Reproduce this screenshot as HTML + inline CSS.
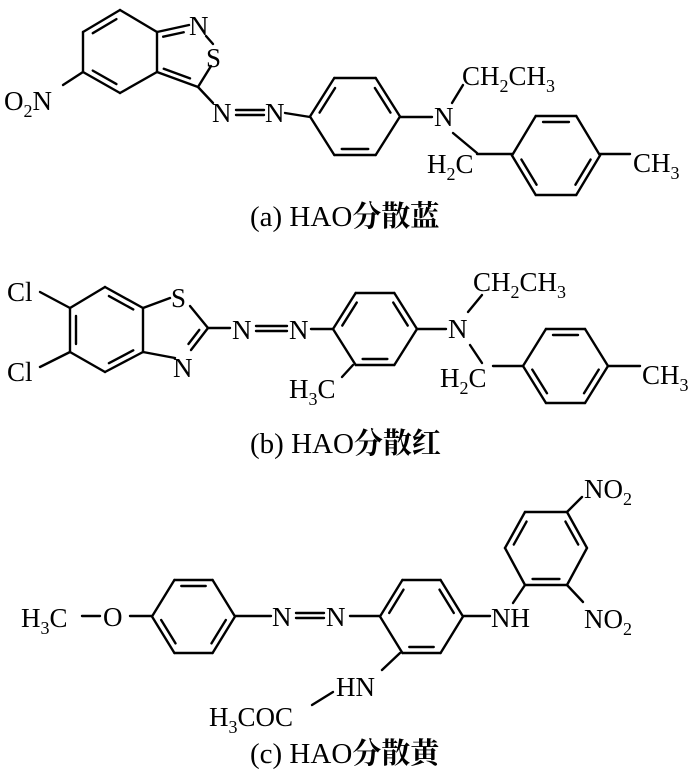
<!DOCTYPE html>
<html><head><meta charset="utf-8"><style>
html,body{margin:0;padding:0;background:#fff;}
svg{display:block;}
text{font-family:"Liberation Serif","Noto Serif CJK SC",serif;fill:#000;}
.a{font-size:27px;}
.c{font-size:29px;}
.s{font-size:18px;}
</style></head><body>
<svg id="g" width="700" height="779" viewBox="0 0 700 779" xmlns="http://www.w3.org/2000/svg">
<g id="L" stroke="#000" stroke-width="2.4" fill="none" stroke-linecap="round"></g>
<text class="a" x="4" y="110">O<tspan class="s" dy="7">2</tspan><tspan dy="-7">N</tspan></text>
<text class="a" x="189" y="35">N</text>
<text class="a" x="206" y="67">S</text>
<text class="a" x="212" y="122">N</text>
<text class="a" x="265" y="122">N</text>
<text class="a" x="434" y="126">N</text>
<text class="a" x="462" y="85">CH<tspan class="s" dy="7">2</tspan><tspan dy="-7">CH</tspan><tspan class="s" dy="7">3</tspan></text>
<text class="a" x="427" y="173">H<tspan class="s" dy="7">2</tspan><tspan dy="-7">C</tspan></text>
<text class="a" x="633" y="172">CH<tspan class="s" dy="7">3</tspan></text>
<text class="c" x="250" y="226">(a) HAO<tspan font-family="Noto Serif CJK SC,serif" font-weight="bold">分散蓝</tspan></text>
<text class="a" x="7" y="301">Cl</text>
<text class="a" x="7" y="381">Cl</text>
<text class="a" x="171" y="307">S</text>
<text class="a" x="173" y="377">N</text>
<text class="a" x="232" y="339">N</text>
<text class="a" x="289" y="339">N</text>
<text class="a" x="289" y="398">H<tspan class="s" dy="7">3</tspan><tspan dy="-7">C</tspan></text>
<text class="a" x="448" y="338">N</text>
<text class="a" x="473" y="291">CH<tspan class="s" dy="7">2</tspan><tspan dy="-7">CH</tspan><tspan class="s" dy="7">3</tspan></text>
<text class="a" x="440" y="387">H<tspan class="s" dy="7">2</tspan><tspan dy="-7">C</tspan></text>
<text class="a" x="642" y="384">CH<tspan class="s" dy="7">3</tspan></text>
<text class="c" x="250" y="453">(b) HAO<tspan font-family="Noto Serif CJK SC,serif" font-weight="bold">分散红</tspan></text>
<text class="a" x="21" y="627">H<tspan class="s" dy="7">3</tspan><tspan dy="-7">C</tspan></text>
<text class="a" x="103" y="626">O</text>
<text class="a" x="272" y="626">N</text>
<text class="a" x="326" y="626">N</text>
<text class="a" x="491" y="627">NH</text>
<text class="a" x="584" y="498">NO<tspan class="s" dy="7">2</tspan></text>
<text class="a" x="584" y="628">NO<tspan class="s" dy="7">2</tspan></text>
<text class="a" x="336" y="696">HN</text>
<text class="a" x="209" y="726">H<tspan class="s" dy="7">3</tspan><tspan dy="-7">COC</tspan></text>
<text class="c" x="250" y="763">(c) HAO<tspan font-family="Noto Serif CJK SC,serif" font-weight="bold">分散黄</tspan></text>
</svg>
<script>
var G=document.getElementById('L');
function ln(a,b,c,d){var l=document.createElementNS('http://www.w3.org/2000/svg','line');l.setAttribute('x1',a);l.setAttribute('y1',b);l.setAttribute('x2',c);l.setAttribute('y2',d);G.appendChild(l);}
function inner(p,q,cx,cy){var mx=(p[0]+q[0])/2,my=(p[1]+q[1])/2;var dx=cx-mx,dy=cy-my,d=Math.hypot(dx,dy);var o=6;var ox=dx/d*o,oy=dy/d*o;var s=0.18;
var a=[p[0]+(q[0]-p[0])*s+ox,p[1]+(q[1]-p[1])*s+oy],b=[q[0]+(p[0]-q[0])*s+ox,q[1]+(p[1]-q[1])*s+oy];ln(a[0],a[1],b[0],b[1]);}
function ring(P,dbl){var cx=0,cy=0;P.forEach(function(p){cx+=p[0];cy+=p[1];});cx/=P.length;cy/=P.length;
for(var i=0;i<P.length;i++){var q=P[(i+1)%P.length];ln(P[i][0],P[i][1],q[0],q[1]);}
dbl.forEach(function(i){inner(P[i],P[(i+1)%P.length],cx,cy);});}
function hex(l,r,t,b){var w=r-l,q=w*0.27;return [[l,(t+b)/2],[l+q,t],[r-q,t],[r,(t+b)/2],[r-q,b],[l+q,b]];}
var B=[[120,10],[83,32],[83,72],[120,93],[157,72],[157,32]];
ring(B,[0,2]);
ln(157,32,189,25); inner([157,32],[189,25],175,55);
ln(206,36,213,44); ln(211,66,198,87); ln(198,87,157,72); inner([198,87],[157,72],175,55);
ln(63,85,83,72); ln(198,87,213,103);
ln(236,110,264,110); ln(236,115,264,115);
ln(285,113,310,117);
ring(hex(310,400,78,155),[0,2,4]);
ln(400,117,432,117); ln(452,103,463,85); ln(453,133,477,153); ln(477,154,512,154);
ring(hex(512,600,116,195),[1,3,5]);
ln(600,154,630,154);
var C=[[70,308],[105,287],[143,308],[143,352],[105,372],[70,352]];
ring(C,[5,1,3]);
ln(40,292,70,308); ln(40,367,70,352);
ln(143,308,170,298); ln(190,306,208,328); ln(208,328,191,350); inner([208,328],[191,350],175,330); ln(175,358,143,352);
ln(208,328,230,328);
ln(256,326,287,326); ln(256,331,287,331);
ln(311,329,333,329);
ring(hex(333,417,293,365),[0,2,4]);
ln(353,365,342,377);
ln(417,329,446,329); ln(468,312,482,295); ln(470,345,482,363); ln(493,366,523,366);
ring(hex(523,608,329,403),[1,3,5]);
ln(608,366,640,366);
ln(82,616,100,616); ln(130,616,152,616);
ring(hex(152,235,580,653),[1,3,5]);
ln(235,616,271,616);
ln(296,613,324,613); ln(296,618,324,618);
ln(350,616,380,616);
ring(hex(380,463,580,653),[0,2,4]);
ln(463,616,490,616);
ring([[525,585],[505,548],[525,512],[567,512],[587,548],[567,585]],[5,1,3]);
ln(513,603,525,585); ln(567,512,582,497); ln(567,585,583,602);
ln(400,653,382,670); ln(312,705,333,692);
</script>
</body></html>
